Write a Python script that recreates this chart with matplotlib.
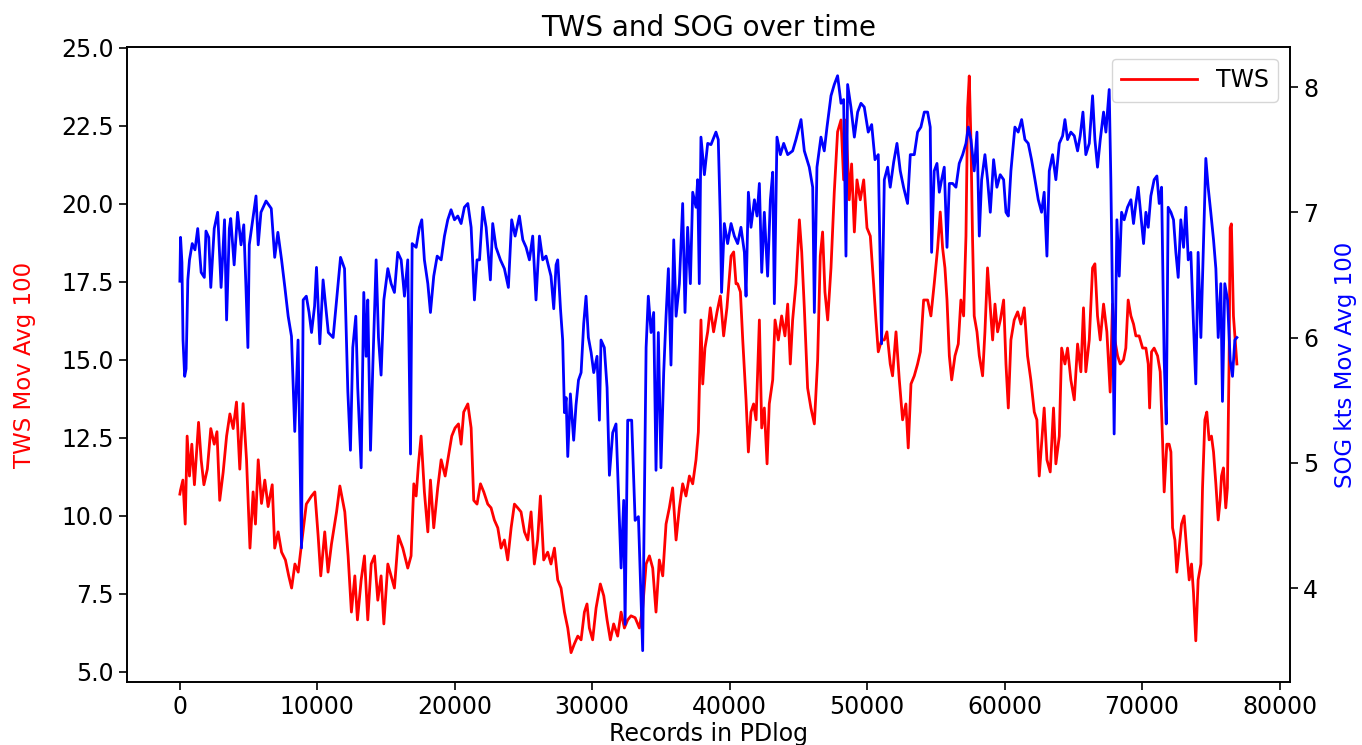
import matplotlib
matplotlib.use("Agg")
import matplotlib.pyplot as plt
import numpy as np

# ---- SOG (kts, moving average 100) : record index and value ----
sog_rec = [
    0, 50, 150, 230, 350, 450, 580, 700, 900, 1100,
    1300, 1550, 1780, 1900, 2100, 2250, 2500, 2750, 3000, 3250,
    3400, 3600, 3700, 3950, 4200, 4450, 4650, 4800, 4950, 5050,
    5300, 5540, 5700, 5900, 6270, 6650, 6900, 7130, 7400, 7640,
    7880, 8120, 8360, 8600, 8850, 8970, 9200, 9400, 9580, 9800,
    9940, 10180, 10420, 10800, 11150, 11400, 11690, 11980, 12220, 12410,
    12580, 12800, 12940,
    13190, 13380, 13550, 13670, 13870, 14040, 14280, 14450, 14640, 14840,
    15130, 15370, 15610, 15850, 16100, 16340, 16580, 16780, 16900, 17190,
    17430, 17600, 17790, 18040, 18230, 18470, 18720, 19010, 19250, 19490,
    19730, 19980, 20220, 20460, 20700, 20950, 21190, 21430, 21620, 21800,
    22040, 22280, 22590, 22760, 23000, 23320, 23610, 23900, 24140, 24390,
    24700, 24950, 25190, 25430, 25670, 25910, 26160, 26400, 26640,
    27000, 27200, 27370, 27490, 27690, 27850, 27980, 28100, 28220, 28410,
    28650, 28820, 29000, 29190, 29380, 29550, 29720, 29920, 30110, 30350,
    30520, 30640, 30880, 31080, 31250, 31490, 31730, 31900, 32100, 32290,
    32390, 32580, 32870, 33120, 33360, 33670, 33920, 34080, 34280, 34470,
    34640, 34810, 35000, 35200, 35370, 35540, 35730, 35930, 36100, 36340,
    36580, 36750, 36940, 37140, 37310, 37550, 37670, 37790, 37910, 38160,
    38400, 38640, 39000, 39170, 39320, 39410, 39610, 39850, 40100, 40340,
    40580, 40820, 41070, 41190, 41360, 41550, 41800, 41990, 42160, 42330,
    42520, 42760, 42960, 43130, 43250, 43440, 43690, 43930, 44220, 44580,
    44820, 45190, 45430, 45790, 46040, 46160, 46350, 46640, 46880, 47080,
    47370, 47610, 47850, 48100, 48290, 48460, 48580, 48820, 49070, 49310,
    49550, 49790, 50080, 50330, 50570, 50810, 51050, 51250, 51490, 51680,
    51930, 52170, 52410, 52650, 52940, 53140, 53430, 53670, 53910, 54160,
    54400, 54590, 54690, 54880, 55080, 55250, 55420, 55610, 55810, 55980,
    56220, 56460, 56700, 56950, 57190, 57360, 57550, 57790, 57990, 58160,
    58330, 58570, 58760, 58960, 59200, 59440, 59680, 59930, 60100, 60270,
    60460, 60750, 60990, 61240, 61480, 61720, 61960, 62210, 62450, 62690,
    62880, 63080, 63250, 63490, 63730, 63980, 64220, 64390, 64580, 64820,
    65070, 65310, 65500, 65700, 65910, 66160, 66400, 66570, 66760, 66960,
    67200, 67370,
    67610, 67730, 67850, 67970, 68170, 68340, 68510, 68700, 68940, 69190,
    69380, 69550, 69720, 69920, 70110, 70280, 70450, 70640, 70880, 71080,
    71250, 71420, 71610, 71760, 71900, 72100, 72290, 72460, 72630, 72820,
    73020, 73190, 73360, 73550, 73740, 73910, 74080, 74280, 74470, 74640,
    74810, 75000, 75200, 75370, 75540, 75730, 75850, 76020, 76220, 76410,
    76580, 76750, 76900,
]
sog_kts = [
    6.45, 6.8, 6.6, 5.98, 5.69, 5.75, 6.46, 6.62, 6.75, 6.7,
    6.87, 6.52, 6.48, 6.85, 6.8, 6.40, 6.87, 7.0, 6.40, 6.94,
    6.14, 6.87, 6.95, 6.58, 7.0, 6.74, 6.9, 6.43, 5.92, 6.74,
    6.94, 7.13, 6.74, 7.0, 7.09, 7.03, 6.64, 6.84, 6.62, 6.4,
    6.17, 6.01, 5.25, 5.98, 4.32, 6.3, 6.33, 6.2, 6.04, 6.25,
    6.56, 5.95, 6.46, 6.04, 6.0, 6.3, 6.64, 6.55, 5.57, 5.1,
    5.92, 6.17, 5.6,
    4.96, 6.36, 5.85, 6.3, 5.1, 5.78, 6.62, 6.0, 5.7, 6.3,
    6.55, 6.43, 6.36, 6.68, 6.62, 6.33, 6.62, 5.07, 6.75, 6.72,
    6.88, 6.94, 6.62, 6.43, 6.2, 6.49, 6.65, 6.62, 6.81, 6.94,
    7.02, 6.94, 6.97, 6.91, 7.04, 7.07, 6.88, 6.3, 6.62, 6.62,
    7.04, 6.88, 6.46, 6.91, 6.72, 6.62, 6.55, 6.4, 6.94, 6.81,
    6.97, 6.78, 6.72, 6.62, 6.81, 6.3, 6.81, 6.62, 6.65,
    6.49, 6.23, 6.58, 6.62, 6.23, 5.98, 5.4, 5.52, 5.05, 5.55,
    5.18, 5.46, 5.66, 5.72, 6.11, 6.33, 6.0, 5.88, 5.72, 5.85,
    5.34, 5.98, 5.92, 5.6, 4.9, 5.24, 5.31, 4.77, 4.16, 4.7,
    3.71, 5.34, 5.34, 4.54, 4.57, 3.5, 5.92, 6.33, 6.04, 6.2,
    4.94, 6.04, 4.96, 5.72, 6.17, 6.55, 5.78, 6.78, 6.17, 6.43,
    7.07, 6.2, 6.88, 6.43, 7.16, 7.04, 7.26, 6.43, 7.6, 7.3,
    7.55, 7.54, 7.64, 7.58, 6.94, 6.36, 6.91, 6.75, 6.91, 6.81,
    6.75, 6.88, 6.68, 6.33, 7.16, 6.88, 7.1, 6.97, 7.23, 6.52,
    7.0, 6.49, 7.1, 7.32, 6.27, 7.6, 7.46, 7.55, 7.46, 7.49,
    7.58, 7.74, 7.49, 7.36, 7.2, 6.2, 7.36, 7.6, 7.49, 7.68,
    7.93, 8.02, 8.09, 7.87, 7.9, 6.65, 8.02, 7.84, 7.6, 7.8,
    7.87, 7.84, 7.64, 7.7, 7.42, 7.46, 5.95, 7.26, 7.36, 7.2,
    7.4, 7.55, 7.33, 7.2, 7.07, 7.46, 7.46, 7.64, 7.68, 7.8,
    7.8, 7.68, 6.68, 7.33, 7.39, 7.16, 7.26, 7.36, 6.72, 7.23,
    7.23, 7.2, 7.39, 7.46, 7.55, 7.68, 7.58, 7.33, 7.64, 6.81,
    7.26, 7.46, 7.26, 7.0, 7.42, 7.2, 7.3, 7.26, 7.0, 6.97,
    7.33, 7.68, 7.64, 7.74, 7.58, 7.55, 7.42, 7.26, 7.1, 7.0,
    7.16, 6.65, 7.33, 7.46, 7.26, 7.55, 7.61, 7.74, 7.58, 7.64,
    7.61, 7.49, 7.61, 7.8, 7.46, 7.55, 7.93, 7.58, 7.36, 7.58,
    7.8, 7.64,
    7.98, 7.26, 6.3, 5.23, 6.94, 6.49, 7.0, 6.94, 7.04, 7.1,
    6.91, 7.07, 7.2, 6.97, 6.75, 7.0, 6.88, 7.13, 7.26, 7.29,
    7.07, 7.2, 5.82, 5.31, 7.04, 7.0, 6.94, 6.68, 6.48, 6.94,
    6.72, 7.04, 6.62, 6.68, 6.11, 5.63, 6.68, 6.0, 6.75, 7.43,
    7.2, 7.0, 6.78, 6.55, 6.0, 6.43, 5.49, 6.43, 6.3, 5.82,
    5.69, 5.98, 6.0,
]

# ---- TWS (moving average 100) : record index and value ----
tws_rec = [
    0, 50, 220, 390, 530, 700, 870, 1060, 1360, 1550,
    1750, 2000, 2250, 2500, 2700, 2900, 3150, 3400, 3640, 3880,
    4120, 4360, 4600, 4850, 5100, 5330, 5500, 5700, 5940, 6180,
    6420, 6720, 6900, 7150, 7400, 7680, 7920, 8130, 8370, 8610,
    8850, 9200, 9580, 9820, 10060, 10250, 10540, 10780, 11030, 11400,
    11640, 12000, 12240, 12480, 12730, 12920,
    13190, 13430, 13670, 13920, 14160, 14400, 14640, 14840, 15130, 15370,
    15610, 15900, 16220, 16580, 16820, 17020, 17190, 17360, 17550, 17790,
    18040, 18230, 18470, 18760, 19010, 19300, 19540, 19780, 20020, 20270,
    20460, 20650, 20950, 21190, 21380, 21620, 21870, 22110, 22400, 22640,
    22880, 23130, 23370, 23610, 23850, 24100, 24340, 24580, 24820, 25070,
    25310, 25550, 25790, 26030, 26230, 26470,
    26760, 27000, 27250, 27490, 27730, 27980, 28220, 28460, 28700, 28950,
    29190, 29430, 29620, 29790, 30030, 30280, 30590, 30840, 31080, 31320,
    31560, 31850, 32100, 32340, 32580, 32820, 33120, 33430, 33670, 33920,
    34160, 34400, 34640, 34880, 35130, 35370, 35610, 35850, 36100, 36340,
    36580, 36820, 37070, 37310, 37550, 37720, 37910, 38040, 38200, 38400,
    38590, 38830, 39080, 39320, 39560, 39800, 40100, 40290, 40460,
    40580, 40780, 40950, 41190, 41360, 41550, 41740, 41920, 42160, 42330,
    42520, 42720, 42880, 43130, 43300, 43540, 43780, 44020, 44220, 44410,
    44580, 44820, 45070, 45240, 45430, 45670, 45910, 46160, 46400, 46590,
    46760, 46930, 47130, 47370, 47610, 47850, 48100, 48290, 48460, 48700,
    48870, 49070, 49260, 49500, 49750, 49990, 50230, 50470, 50640, 50810,
    51050, 51250, 51440, 51680, 51850, 52100, 52340, 52580, 52820, 52990,
    53190, 53430, 53670, 53870, 54110,
    54400, 54640, 54880, 55130, 55320, 55490, 55660, 55810, 55980, 56150,
    56390, 56630, 56820, 57020, 57190, 57310, 57430, 57550, 57670, 57790,
    57990, 58160, 58400, 58570, 58760, 58960, 59130, 59300, 59490, 59690,
    59930, 60100, 60270, 60460, 60700, 60950, 61190, 61430, 61670, 61910,
    62160, 62350, 62520, 62690, 62880, 63080, 63320, 63560, 63730, 63980,
    64150, 64390, 64580, 64820, 65070, 65310, 65550, 65740, 65910, 66160,
    66400, 66570, 66760, 66960, 67200, 67440,
    67680, 67850, 68020, 68220, 68410, 68650, 68820, 68990, 69190, 69380,
    69550, 69790, 70040, 70280, 70450, 70550, 70690, 70880, 71130, 71320,
    71490, 71610, 71800, 71970, 72100, 72220, 72390, 72530, 72700, 72870,
    73060, 73260, 73430, 73600, 73740, 73910, 74080, 74280, 74400, 74570,
    74710, 74880, 75050, 75200, 75370, 75540, 75680, 75780, 75920, 76090,
    76210, 76330, 76410, 76500, 76650, 76820, 76900,
]
tws_val = [
    10.7, 10.83, 11.15, 9.74, 12.56, 11.28, 12.3, 11.0, 13.0, 11.8,
    11.0, 11.5, 12.8, 12.3, 12.7, 10.5, 11.4, 12.56, 13.27, 12.8,
    13.65, 11.5, 13.6, 11.8, 8.97, 10.77, 9.74, 11.8, 10.4, 11.15,
    10.3, 11.0, 8.97, 9.49, 8.84, 8.59, 8.08, 7.69, 8.46, 8.2,
    9.1, 10.38, 10.64, 10.77, 9.36, 8.08, 9.49, 8.2, 9.1, 10.13,
    10.96, 10.13, 8.72, 6.92, 8.08, 6.67,
    7.95, 8.72, 6.67, 8.46, 8.72, 7.3, 8.08, 6.54, 8.46, 8.08,
    7.69, 9.36, 8.97, 8.33, 8.72, 11.03, 10.64, 11.67, 12.56, 10.77,
    9.49, 11.15, 9.62, 10.9, 11.8, 11.28, 11.92, 12.56, 12.82, 12.95,
    12.3, 13.33, 13.59, 12.82, 10.5, 10.38, 11.03, 10.77, 10.38, 10.26,
    9.87, 9.62, 8.97, 9.23, 8.59, 9.62, 10.38, 10.26, 10.13, 9.49,
    9.23, 10.13, 8.46, 9.23, 10.64, 8.59,
    8.84, 8.46, 8.97, 7.95, 7.69, 6.92, 6.41, 5.62, 5.9, 6.15,
    6.03, 6.92, 7.18, 6.41, 6.03, 7.05, 7.82, 7.44, 6.67, 6.03,
    6.54, 6.15, 6.92, 6.41, 6.67, 6.8, 6.74, 6.41, 7.05, 8.46,
    8.72, 8.33, 6.92, 8.59, 8.08, 9.74, 10.26, 10.9, 9.23, 10.26,
    11.03, 10.64, 11.28, 11.03, 11.8, 12.69, 16.28, 14.23, 15.38, 15.9,
    16.67, 15.9, 16.54, 17.05, 15.77, 16.67, 18.33, 18.46, 17.44,
    17.44, 17.18, 15.64, 13.72, 12.05, 13.33, 13.59, 13.08, 16.28, 12.82,
    13.46, 11.67, 13.59, 14.36, 16.28, 15.64, 16.41, 15.77, 16.79, 14.87,
    16.28, 17.44, 19.49, 18.46, 16.67, 14.1, 13.46, 12.95, 15.0, 18.33,
    19.1, 17.18, 16.28, 17.95, 20.38, 22.31, 22.69, 20.77, 22.69, 20.13,
    21.28, 19.1, 20.77, 20.13, 20.77, 19.23, 18.97, 17.44, 16.28, 15.26,
    15.64, 15.64, 15.9, 14.87, 14.49, 15.9, 14.36, 13.08, 13.59, 12.18,
    14.23, 14.49, 14.87, 15.26, 16.92,
    16.92, 16.41, 17.44, 18.59, 19.74, 18.59, 17.95, 16.92, 15.13, 14.36,
    15.13, 15.51, 16.92, 16.41, 18.97, 23.08, 24.1, 22.05, 18.85, 16.41,
    15.9, 15.13, 14.49, 15.9, 17.95, 16.67, 15.64, 16.79, 15.9, 16.28,
    16.92, 14.87, 13.46, 15.64, 16.28, 16.54, 16.15, 16.67, 15.13, 14.36,
    13.33, 13.08, 11.28, 12.3, 13.46, 11.8, 11.41, 13.46, 11.67, 12.56,
    15.38, 14.87, 15.38, 14.36, 13.72, 15.51, 14.62, 16.67, 14.62, 15.64,
    17.95, 18.08, 16.41, 15.64, 16.79, 15.9,
    13.97, 16.79, 15.64, 15.13, 14.87, 15.0, 15.38, 16.92, 16.41, 16.15,
    15.77, 15.77, 15.38, 15.38, 14.87, 13.46, 15.26, 15.38, 15.13, 14.62,
    12.44, 10.77, 12.3, 12.3, 12.05, 9.62, 9.23, 8.2, 8.97, 9.74,
    10.0, 8.84, 7.95, 8.46, 7.56, 6.0, 7.95, 8.46, 10.9, 13.08,
    13.33, 12.44, 12.56, 12.05, 11.03, 9.87, 10.51, 11.28, 11.54, 10.26,
    10.9, 14.87, 19.23, 19.36, 16.41, 15.38, 14.87,
]

assert len(sog_rec) == len(sog_kts)
assert len(tws_rec) == len(tws_val)

title = "TWS and SOG over time"
xlabel = "Records in PDlog"
ylabel_left = "TWS Mov Avg 100"
ylabel_right = "SOG kts Mov Avg 100"
xticks = [0, 10000, 20000, 30000, 40000, 50000, 60000, 70000, 80000]

fig = plt.figure(figsize=(13.62, 7.45), dpi=100)
ax1 = fig.add_axes([0.0932, 0.0846, 0.8538, 0.8524])
ax2 = ax1.twinx()

ax1.plot(tws_rec, tws_val, color="red", lw=2.0, label="TWS")
ax2.plot(sog_rec, sog_kts, color="blue", lw=2.0)

ax1.set_xlim(-3850, 80750)
ax1.set_ylim(4.68, 25.03)
ax2.set_ylim(3.25, 8.32)
ax1.set_xticks(xticks)
ax1.set_xticklabels([str(t) for t in xticks])
ax1.set_yticks([5.0, 7.5, 10.0, 12.5, 15.0, 17.5, 20.0, 22.5, 25.0])
ax1.set_yticklabels(["5.0", "7.5", "10.0", "12.5", "15.0", "17.5", "20.0", "22.5", "25.0"])
ax2.set_yticks([4, 5, 6, 7, 8])

for ax in (ax1, ax2):
    ax.tick_params(labelsize=17, length=6, width=1.2)
    for s in ax.spines.values():
        s.set_linewidth(1.2)

ax1.set_title(title, fontsize=20, pad=8)
ax1.set_xlabel(xlabel, fontsize=17, labelpad=2)
ax1.set_ylabel(ylabel_left, color="red", fontsize=16.5, labelpad=18)
ax2.set_ylabel(ylabel_right, color="blue", fontsize=16.5, labelpad=11)

ax1.legend(loc="upper right", fontsize=17, handlelength=3.2)

fig.savefig("out.png", dpi=100)
